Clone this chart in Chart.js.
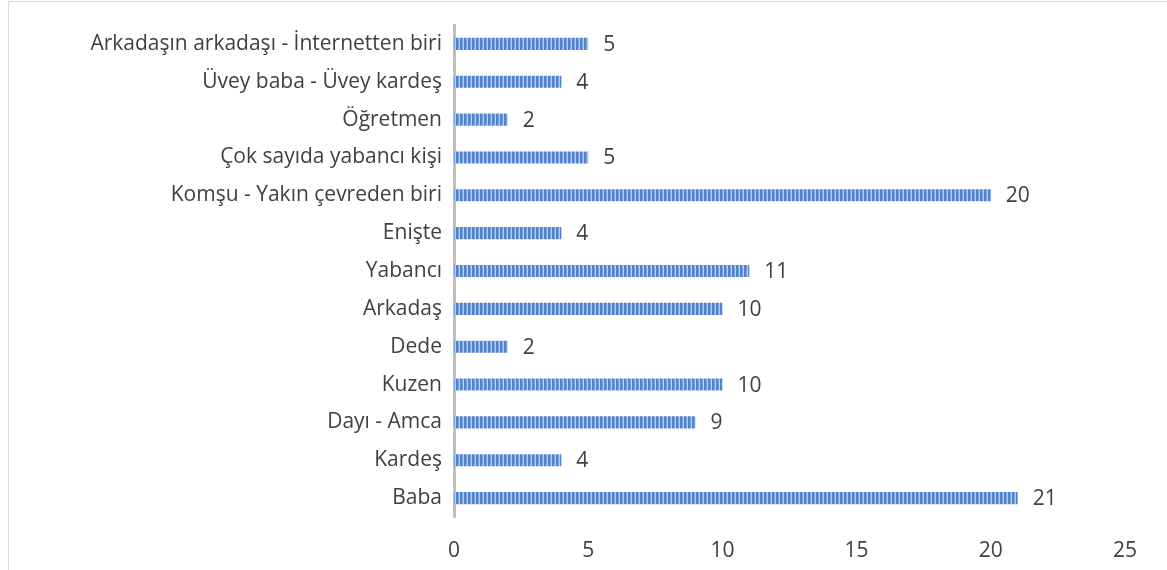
<!DOCTYPE html>
<html>
<head>
<meta charset="utf-8">
<script src="https://cdn.jsdelivr.net/npm/chart.js@4/dist/chart.umd.min.js"></script>
<style>
    html, body { margin: 0; padding: 0; background: #ffffff; overflow: hidden; }
    #wrap { position: relative; width: 1167px; height: 570px; }
    #frame { position: absolute; left: 8px; top: 1px; width: 1200px; height: 600px; border: 1px solid #d9d9d9; box-sizing: border-box; }
</style>
</head>
<body>
<div id="wrap">
    <div id="frame"></div>
    <canvas id="barChart" width="1167" height="570"></canvas>
</div>
<script>
// Categories from top to bottom
let categories = [
    'Arkadaşın arkadaşı - İnternetten biri',
    'Üvey baba - Üvey kardeş',
    'Öğretmen',
    'Çok sayıda yabancı kişi',
    'Komşu - Yakın çevreden biri',
    'Enişte',
    'Yabancı',
    'Arkadaş',
    'Dede',
    'Kuzen',
    'Dayı - Amca',
    'Kardeş',
    'Baba'
];
let counts = [5, 4, 2, 5, 20, 4, 11, 10, 2, 10, 9, 4, 21];
let xTicks = [0, 5, 10, 15, 20, 25];

let textColor = '#404040';
let fontFamily = "'Open Sans', 'Noto Sans', sans-serif";

// Small canvas used as a vertical stripe fill for the bars
function makeStripes() {
    let c = document.createElement('canvas');
    c.width = 4;
    c.height = 4;
    let g = c.getContext('2d');
    g.fillStyle = '#5282cb';
    g.fillRect(0, 0, 4, 4);
    g.fillStyle = '#7aa0da';
    g.fillRect(2, 0, 1, 4);
    g.fillStyle = '#bccfee';
    g.fillRect(3, 0, 1, 4);
    return g.createPattern(c, 'repeat');
}

// Draws the value just after the end of each bar
let valueLabels = {
    id: 'valueLabels',
    afterDatasetsDraw(chart) {
        let ctx = chart.ctx;
        let meta = chart.getDatasetMeta(0);
        ctx.save();
        ctx.fillStyle = textColor;
        ctx.font = '21px ' + fontFamily;
        ctx.textAlign = 'left';
        ctx.textBaseline = 'middle';
        meta.data.forEach(function (bar, i) {
            ctx.fillText(String(counts[i]), bar.x + 15, bar.y + 1);
        });
        ctx.restore();
    }
};

let ctx = document.getElementById('barChart').getContext('2d');

let myChart = new Chart(ctx, {
    type: 'bar',
    data: {
        labels: categories,
        datasets: [{
            data: counts,
            backgroundColor: makeStripes(),
            borderWidth: 0,
            categoryPercentage: 1,
            barPercentage: 0.32
        }]
    },
    options: {
        indexAxis: 'y',
        responsive: false,
        animation: false,
        layout: { padding: { top: 25, right: 42, left: 0, bottom: 0 } },
        plugins: {
            legend: { display: false },
            tooltip: { enabled: false }
        },
        scales: {
            x: {
                min: 0,
                max: 25,
                afterBuildTicks(scale) {
                    scale.ticks = xTicks.map(function (v) { return { value: v }; });
                },
                afterFit(scale) { scale.height = 53; },
                grid: { display: false, drawTicks: false },
                border: { display: false },
                ticks: {
                    color: textColor,
                    font: { size: 21, family: fontFamily },
                    padding: 21
                }
            },
            y: {
                afterFit(scale) { scale.width = 454; },
                grid: { display: false, drawTicks: false },
                border: { display: true, color: '#bfbfbf', width: 3 },
                ticks: {
                    color: textColor,
                    font: { size: 21, family: fontFamily },
                    padding: 12
                }
            }
        }
    },
    plugins: [valueLabels]
});
</script>
</body>
</html>
